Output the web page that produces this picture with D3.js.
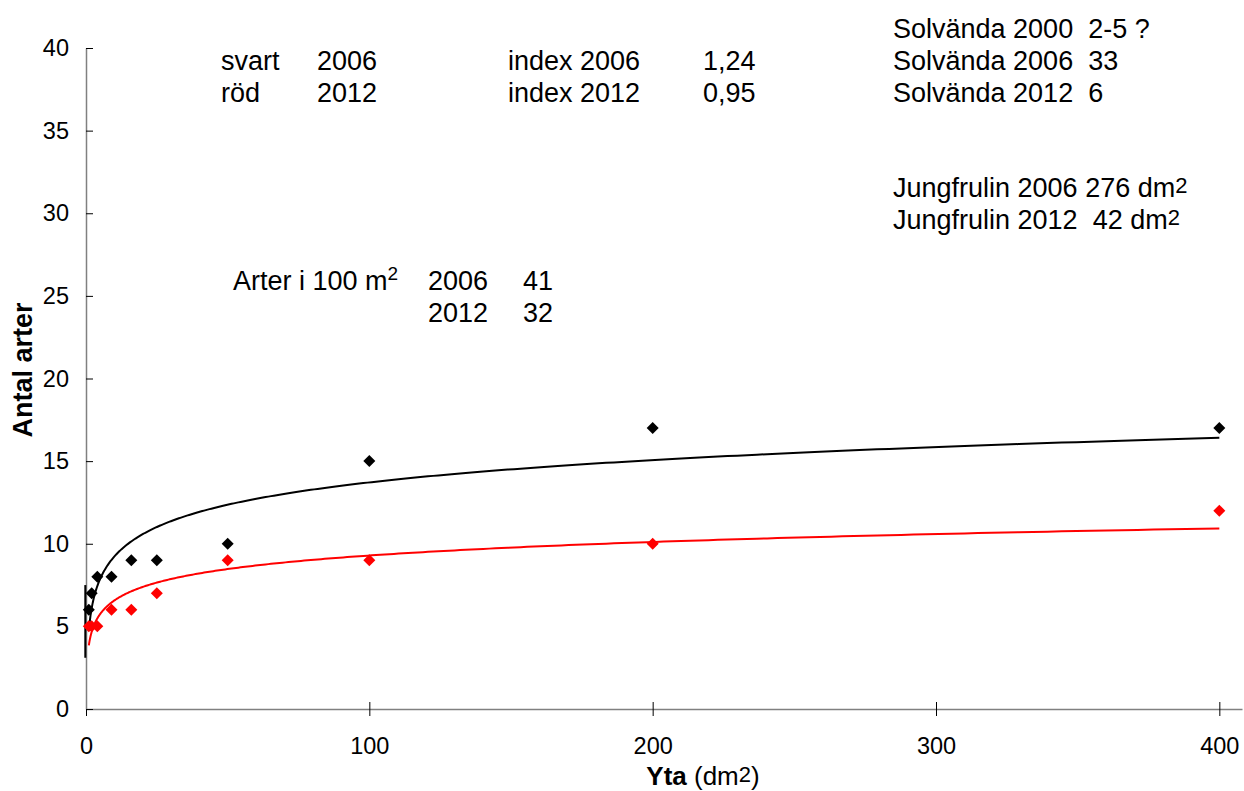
<!DOCTYPE html>
<html><head><meta charset="utf-8">
<script src="https://cdn.jsdelivr.net/npm/d3@7"></script>
<style>
html,body{margin:0;padding:0;background:#fff;}
svg{display:block;font-family:"Liberation Sans",Arial,sans-serif;}
</style></head>
<body>
<svg id="chart" width="1244" height="791"></svg>
<script>
// ---- data ----
const areas = [1, 2, 4, 9, 16, 25, 50, 100, 200, 400];
const species2006 = [6, 7, 8, 8, 9, 9, 10, 15, 17, 17];
const species2012 = [5, 5, 5, 6, 6, 7, 9, 9, 10, 12];
const xTicks = [0, 100, 200, 300, 400];
const yTicks = [0, 5, 10, 15, 20, 25, 30, 35, 40];
const axisMarkRange = [3.1, 7.5];

const svg = d3.select("#chart");
const x = d3.scaleLinear().domain([0, 408]).range([86, 1242]);
const y = d3.scaleLinear().domain([0, 40]).range([709, 48]);

// axes
const axisCol = "#808080";
const tickFont = 23.5;
const gx = svg.append("g").attr("transform", `translate(0,${y(0)})`)
  .call(d3.axisBottom(x).tickValues(xTicks).tickSize(7).tickSizeOuter(0).tickPadding(21));
gx.select(".domain").attr("stroke", axisCol).attr("stroke-width", 1.5);
gx.selectAll(".tick line").attr("y1", -7).attr("stroke", "#000");
gx.selectAll(".tick text").attr("font-size", tickFont).attr("font-family", "Liberation Sans, Arial, sans-serif").attr("fill", "#000");

const gy = svg.append("g").attr("transform", `translate(${x(0)},0)`)
  .call(d3.axisLeft(y).tickValues(yTicks).tickSize(7).tickSizeOuter(0).tickPadding(10));
gy.select(".domain").attr("stroke", axisCol).attr("stroke-width", 1.5);
gy.selectAll(".tick line").attr("x2", 7).attr("stroke", "#000");
gy.selectAll(".tick text").attr("font-size", tickFont).attr("font-family", "Liberation Sans, Arial, sans-serif").attr("fill", "#000");

// small mark near the origin
svg.append("line").attr("x1", x(0) - 0.7).attr("x2", x(0) - 0.7)
  .attr("y1", y(axisMarkRange[0])).attr("y2", y(axisMarkRange[1]))
  .attr("stroke", "#000").attr("stroke-width", 2);

// logarithmic trend lines (least squares on ln(x))
function logFit(xs, ys) {
  const lx = xs.map(Math.log);
  const mx = d3.mean(lx), my = d3.mean(ys);
  let sxy = 0, sxx = 0;
  lx.forEach((v, i) => { sxy += (v - mx) * (ys[i] - my); sxx += (v - mx) * (v - mx); });
  const b = sxy / sxx, a = my - b * mx;
  return v => a + b * Math.log(v);
}
function trend(ys, col) {
  const f = logFit(areas, ys);
  const lo = d3.min(areas), hi = d3.max(areas);
  const pts = d3.range(0, 401).map(i => lo * Math.pow(hi / lo, i / 400));
  svg.append("path").datum(pts)
    .attr("d", d3.line().x(d => x(d)).y(d => y(f(d))))
    .attr("fill", "none").attr("stroke", col).attr("stroke-width", 2);
}
trend(species2006, "#000");
trend(species2012, "#ff0000");

// markers
function markers(ys, col) {
  svg.append("g").selectAll("path").data(areas).join("path")
    .attr("d", d3.symbol(d3.symbolSquare, 72)())
    .attr("transform", (d, i) => `translate(${x(d)},${y(ys[i])}) rotate(45)`)
    .attr("fill", col);
}
markers(species2012, "#ff0000");
markers(species2006, "#000");

// axis titles
svg.append("text").attr("transform", `translate(32,370) rotate(-90)`)
  .attr("text-anchor", "middle").attr("font-size", 27).attr("font-weight", "bold")
  .text("Antal arter");
const xt = svg.append("text").attr("x", 703).attr("y", 785)
  .attr("text-anchor", "middle").attr("font-size", 26);
xt.append("tspan").attr("font-weight", "bold").text("Yta");
xt.append("tspan").text(" (dm");
xt.append("tspan").attr("font-size", 22).attr("dy", -3).text("2");
xt.append("tspan").attr("dy", 3).text(")");

// annotations
const fs = 27;
function txt(px, py, s) {
  return svg.append("text").attr("x", px).attr("y", py).attr("font-size", fs)
    .style("white-space", "pre").text(s);
}
txt(221, 70, "svart"); txt(317, 70, "2006"); txt(508, 70, "index 2006"); txt(703, 70, "1,24");
txt(221, 102, "röd"); txt(317, 102, "2012"); txt(508, 102, "index 2012"); txt(703, 102, "0,95");
txt(893, 38, "Solvända 2000  2-5 ?");
txt(893, 70, "Solvända 2006  33");
txt(893, 102, "Solvända 2012  6");
const j1 = txt(893, 197, "Jungfrulin 2006 276 dm");
j1.append("tspan").attr("font-size", 22).attr("dy", -4).text("2");
const j2 = txt(893, 229, "Jungfrulin 2012  42 dm");
j2.append("tspan").attr("font-size", 22).attr("dy", -4).text("2");
const ar = txt(233, 290, "Arter i 100 m");
ar.append("tspan").attr("font-size", 19).attr("dy", -10).text("2");
txt(428, 290, "2006"); txt(523, 290, "41");
txt(428, 322, "2012"); txt(523, 322, "32");
</script>
</body></html>
